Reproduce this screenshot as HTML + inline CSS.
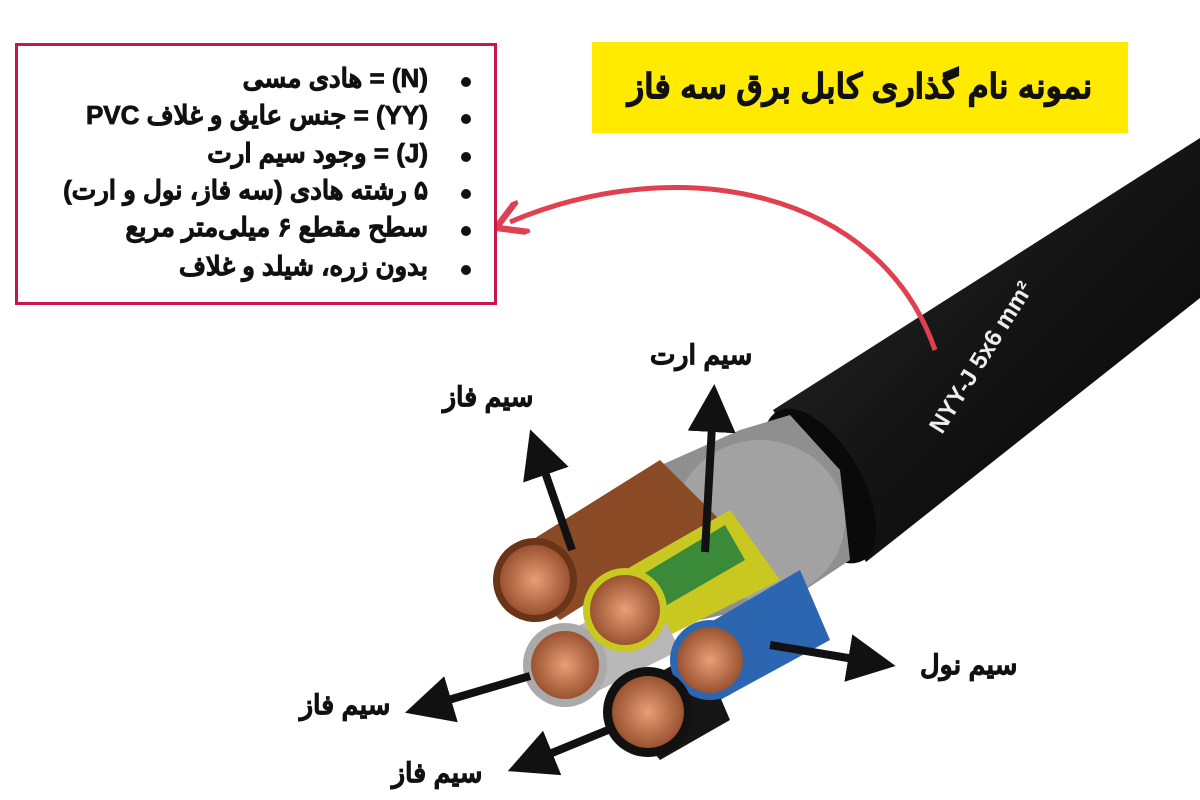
<!DOCTYPE html>
<html><head><meta charset="utf-8"><style>
body{margin:0;width:1200px;height:800px;background:#fff;overflow:hidden;position:relative;font-family:"Liberation Sans","Noto Sans CJK SC",sans-serif}
.box{position:absolute;left:15px;top:43px;width:476px;height:256px;border:3px solid #c8184a;background:#fff}
.line{position:absolute;right:0;width:480px;font-weight:bold;font-size:26px;color:#111;direction:rtl;text-align:right;white-space:nowrap;-webkit-text-stroke:0.8px #111}
.b{position:absolute;left:443px;width:10px;height:10px;border-radius:50%;background:#111}
.title{position:absolute;left:592px;top:42px;width:536px;height:91px;background:#ffea00;font-weight:bold;font-size:34px;color:#111;text-align:center;line-height:91px;direction:rtl;-webkit-text-stroke:1px #111}
.lbl{position:absolute;font-weight:bold;font-size:27px;color:#111;direction:rtl;white-space:nowrap;-webkit-text-stroke:0.8px #111}
svg{position:absolute;left:0;top:0}
</style></head><body>
<svg width="1200" height="800">
<defs>
<marker id="ah" markerWidth="6" markerHeight="6" refX="3" refY="3" orient="auto"><path d="M0,0 L6,3 L0,6 z" fill="#111"/></marker>
<marker id="ar" markerWidth="7" markerHeight="7" refX="3" refY="3.5" orient="auto"><path d="M0,0 L6,3.5 L0,7" fill="none" stroke="#e0404f" stroke-width="1.3"/></marker>
<radialGradient id="cu"><stop offset="0" stop-color="#e8a078"/><stop offset="1" stop-color="#9a5230"/></radialGradient>
<linearGradient id="jk" x1="0" y1="0" x2="1" y2="1"><stop offset="0" stop-color="#2a2a2a"/><stop offset=".5" stop-color="#141414"/><stop offset="1" stop-color="#050505"/></linearGradient>
</defs>
<polygon points="773,410 1200,138 1200,298 866,562" fill="url(#jk)"/>
<ellipse cx="820" cy="486" rx="42" ry="86" fill="#0a0a0a" transform="rotate(-30 820 486)"/>
<polygon points="650,470 740,430 790,415 840,470 850,560 790,600 700,620 640,560" fill="#8f8f8f"/>
<ellipse cx="760" cy="520" rx="85" ry="80" fill="#a2a2a2"/>
<!-- wires bodies -->
<polygon points="500,560 660,460 720,520 560,620" fill="#8a4a26"/>
<polygon points="590,590 730,510 780,580 640,650" fill="#c8c820"/>
<polygon points="600,600 725,525 745,560 615,635" fill="#3a8a3a"/>
<polygon points="680,640 800,570 830,640 720,700" fill="#2d66b0"/>
<polygon points="530,650 650,590 680,650 580,700" fill="#b8b8b8"/>
<polygon points="610,700 700,650 730,720 660,760" fill="#151515"/>
<!-- ends -->
<circle cx="535" cy="580" r="42" fill="#6a3418"/><circle cx="535" cy="580" r="35" fill="url(#cu)"/>
<circle cx="565" cy="665" r="42" fill="#aaa"/><circle cx="565" cy="665" r="34" fill="url(#cu)"/>
<circle cx="625" cy="610" r="42" fill="#c8c820"/><circle cx="625" cy="610" r="35" fill="url(#cu)"/>
<circle cx="710" cy="660" r="40" fill="#2d66b0"/><circle cx="710" cy="660" r="33" fill="url(#cu)"/>
<circle cx="648" cy="712" r="45" fill="#111"/><circle cx="648" cy="712" r="36" fill="url(#cu)"/>
<text x="0" y="0" transform="translate(942,435) rotate(-58)" fill="#eee" font-size="24" font-weight="bold" font-family="Liberation Sans Narrow,Liberation Sans,sans-serif">NYY-J 5x6 mm²</text>
<!-- arrows -->
<g stroke="#111" stroke-width="8" fill="none" marker-end="url(#ah)">
<line x1="572" y1="550" x2="538" y2="452"/>
<line x1="705" y1="552" x2="713" y2="408"/>
<line x1="770" y1="645" x2="872" y2="662"/>
<line x1="530" y1="676" x2="428" y2="706"/>
<line x1="608" y1="730" x2="530" y2="762"/>
</g>
<path d="M935,350 C880,190 680,150 510,222" stroke="#e0404f" stroke-width="5" fill="none" marker-end="url(#ar)"/>
</svg>
<div class="box">
<div class="b" style="top:31px"></div><div class="b" style="top:68px"></div><div class="b" style="top:106px"></div><div class="b" style="top:143px"></div><div class="b" style="top:180px"></div><div class="b" style="top:219px"></div>
<div class="line" style="top:17px;right:66px">(N) = هادی مسی</div>
<div class="line" style="top:54px;right:66px">(YY) = جنس عایق و غلاف PVC</div>
<div class="line" style="top:92px;right:66px">(J) = وجود سیم ارت</div>
<div class="line" style="top:129px;right:66px">۵ رشته هادی (سه فاز، نول و ارت)</div>
<div class="line" style="top:166px;right:66px">سطح مقطع ۶ میلی‌متر مربع</div>
<div class="line" style="top:205px;right:66px">بدون زره، شیلد و غلاف</div>
</div>
<div class="title">نمونه نام گذاری کابل برق سه فاز</div>
<div class="lbl" style="left:650px;top:340px">سیم ارت</div>
<div class="lbl" style="left:443px;top:382px">سیم فاز</div>
<div class="lbl" style="left:920px;top:650px">سیم نول</div>
<div class="lbl" style="left:300px;top:690px">سیم فاز</div>
<div class="lbl" style="left:392px;top:758px">سیم فاز</div>
</body></html>
